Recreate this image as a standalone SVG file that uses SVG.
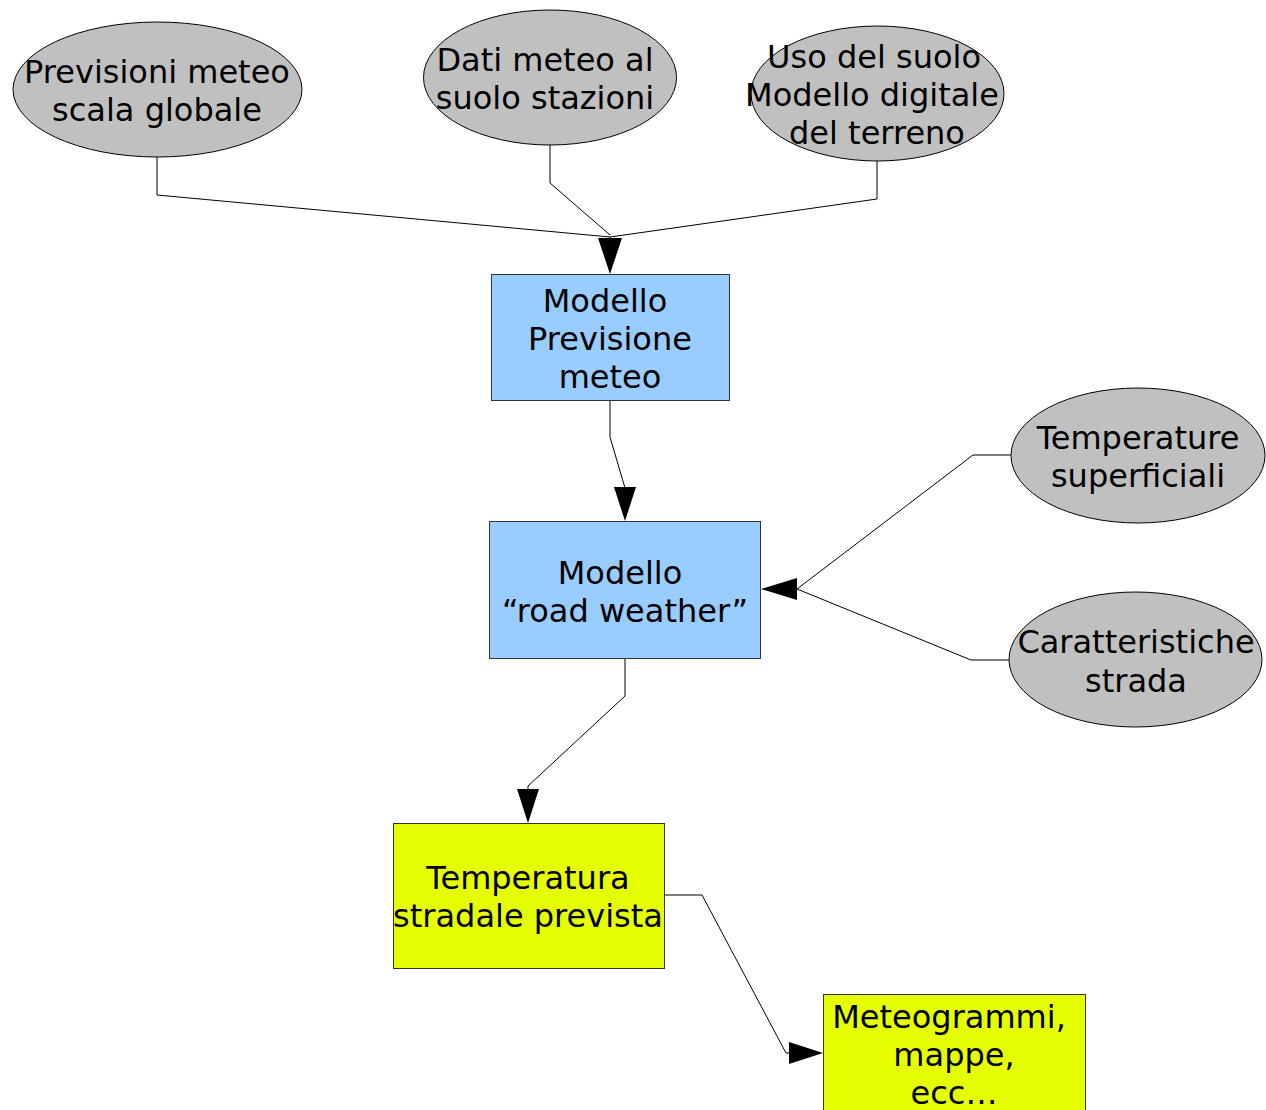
<svg xmlns="http://www.w3.org/2000/svg" width="1266" height="1110" viewBox="0 0 1266 1110">
<style>
text{font-family:"DejaVu Sans","Liberation Sans",sans-serif;font-size:32px;fill:#000;text-anchor:middle}
.ell{fill:#c0c0c0;stroke:#000;stroke-width:1}
.blue{fill:#99ccff;stroke:#333;stroke-width:1}
.yel{fill:#e6ff00;stroke:#333;stroke-width:1}
.ln{fill:none;stroke:#000;stroke-width:1}
.ah{fill:#000}
</style>
<rect width="1266" height="1110" fill="#fff"/>
<g id="connectors">
<polyline class="ln" points="157,157 157,195 610,237 610,245"/>
<polyline class="ln" points="550,145 550,183 610,235"/>
<polyline class="ln" points="877,161 877,199 610,237"/>
<polygon class="ah" points="598,238 622,238 610,274"/>
<polyline class="ln" points="610,400 610,437 625,488"/>
<polygon class="ah" points="614,487 636,487 625,521"/>
<polyline class="ln" points="1011,455 973,455 797,589"/>
<polyline class="ln" points="1009,660 971,660 797,589"/>
<polygon class="ah" points="797,578 797,600 761,589"/>
<polyline class="ln" points="625,658 625,696 528,786 528,792"/>
<polygon class="ah" points="517,789 539,789 528,823"/>
<polyline class="ln" points="664,895 702,895 786,1053 792,1053"/>
<polygon class="ah" points="789,1042 789,1064 823,1053"/>
</g>
<g id="n1"><ellipse class="ell" cx="157.5" cy="89.5" rx="144.5" ry="67.5"/><text x="157" y="83">Previsioni meteo</text><text x="157" y="121">scala globale</text></g>
<g id="n2"><ellipse class="ell" cx="550" cy="77.5" rx="126.5" ry="67.5"/><text x="545" y="71">Dati meteo al</text><text x="545" y="109">suolo stazioni</text></g>
<g id="n3"><ellipse class="ell" cx="877.5" cy="93.5" rx="126.5" ry="67.5"/><text x="874" y="68">Uso del suolo</text><text x="872" y="106">Modello digitale</text><text x="877" y="144">del terreno</text></g>
<g id="n4"><rect class="blue" x="491.5" y="274.5" width="238" height="126"/><text x="605" y="312">Modello</text><text x="610" y="350">Previsione</text><text x="610" y="388">meteo</text></g>
<g id="n5"><rect class="blue" x="489.5" y="521.5" width="271" height="137"/><text x="620" y="584">Modello</text><text x="625" y="622">“road weather”</text></g>
<g id="n6"><ellipse class="ell" cx="1138" cy="455.5" rx="127" ry="67.5"/><text x="1138" y="449">Temperature</text><text x="1138" y="487">superficiali</text></g>
<g id="n7"><ellipse class="ell" cx="1135.5" cy="659.5" rx="126.5" ry="67.5"/><text x="1136" y="653">Caratteristiche</text><text x="1136" y="692">strada</text></g>
<g id="n8"><rect class="yel" x="393.5" y="823.5" width="271" height="145"/><text x="528" y="889">Temperatura</text><text x="528" y="927">stradale prevista</text></g>
<g id="n9"><rect class="yel" x="823.5" y="994.5" width="262" height="130"/><text x="949" y="1028">Meteogrammi,</text><text x="954" y="1066">mappe,</text><text x="954" y="1104">ecc…</text></g>
</svg>
